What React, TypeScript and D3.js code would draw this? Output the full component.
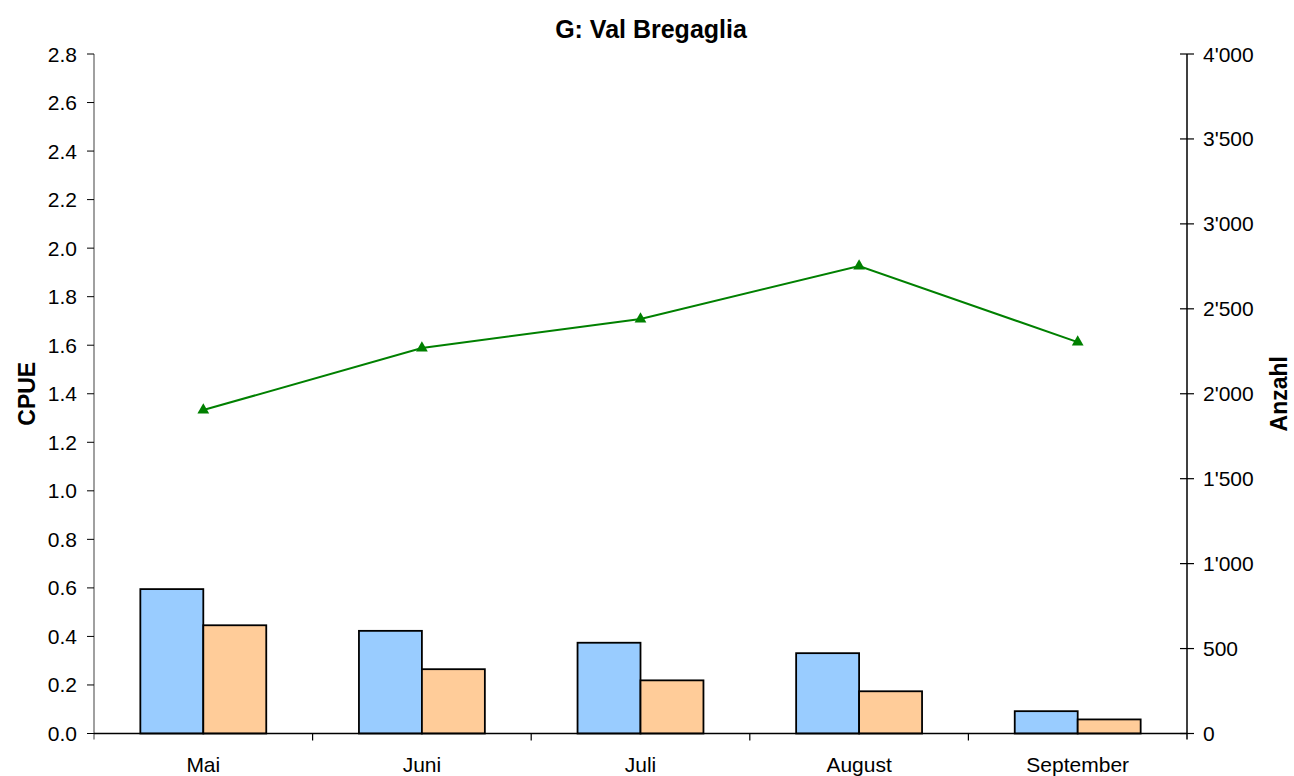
import React from "react";
import * as d3 from "d3";

const months = ["Mai", "Juni", "Juli", "August", "September"];
const cpueBlue = [0.595, 0.423, 0.374, 0.331, 0.092];
const cpueOrange = [0.446, 0.265, 0.219, 0.174, 0.058];
const anzahl = [1904, 2269, 2440, 2752, 2304];
const leftTicks = [0, 0.2, 0.4, 0.6, 0.8, 1.0, 1.2, 1.4, 1.6, 1.8, 2.0, 2.2, 2.4, 2.6, 2.8];
const rightTicks = [0, 500, 1000, 1500, 2000, 2500, 3000, 3500, 4000];

const W = 1294;
const H = 776;
const left = 94;
const right = 1187;
const top = 54;
const bottom = 733.5;
const FONT = "Liberation Sans, Arial, sans-serif";

export default function App() {
  const x = d3.scaleBand<string>().domain(months).range([left, right]).paddingInner(0).paddingOuter(0);
  const yL = d3.scaleLinear().domain([0, 2.8]).range([bottom, top]);
  const yR = d3.scaleLinear().domain([0, 4000]).range([bottom, top]);
  const bw = x.bandwidth();
  const barW = bw * 0.288;
  const fmtR = (v: number) => d3.format(",")(v).replace(/,/g, "'");
  const line = d3
    .line<number>()
    .x((_, i) => (x(months[i]) as number) + bw / 2)
    .y((d) => yR(d));
  const tri = d3.symbol().type(d3.symbolTriangle).size(60)();

  return (
    <svg width={W} height={H} style={{ position: "absolute", left: 0, top: 0, background: "#fff" }} fontFamily={FONT}>
      <text x={651} y={38} textAnchor="middle" fontWeight="bold" fontSize={25}>
        G: Val Bregaglia
      </text>
      {months.map((m, i) => {
        const cx = (x(m) as number) + bw / 2;
        return (
          <g key={m}>
            <rect x={cx - barW} y={yL(cpueBlue[i])} width={barW} height={bottom - yL(cpueBlue[i])} fill="#99ccff" stroke="#000" strokeWidth={1.8} />
            <rect x={cx} y={yL(cpueOrange[i])} width={barW} height={bottom - yL(cpueOrange[i])} fill="#ffcc99" stroke="#000" strokeWidth={1.8} />
          </g>
        );
      })}
      {/* left axis */}
      <line x1={left} x2={left} y1={top} y2={bottom + 6} stroke="#808080" strokeWidth={1.5} />
      {leftTicks.map((t) => (
        <g key={t}>
          <line x1={left - 7} x2={left} y1={yL(t)} y2={yL(t)} stroke="#000" strokeWidth={1} />
          <text x={left - 17} y={yL(t) + 7.5} textAnchor="end" fontSize={21}>
            {t.toFixed(1)}
          </text>
        </g>
      ))}
      {/* right axis */}
      <line x1={right} x2={right} y1={top} y2={bottom + 6} stroke="#000" strokeWidth={1.5} />
      {rightTicks.map((t) => (
        <g key={t}>
          <line x1={right - 7} x2={right + 7} y1={yR(t)} y2={yR(t)} stroke="#000" strokeWidth={1.2} />
          <text x={right + 16} y={yR(t) + 7.5} textAnchor="start" fontSize={21}>
            {fmtR(t)}
          </text>
        </g>
      ))}
      {/* x axis */}
      <line x1={left} x2={right} y1={bottom} y2={bottom} stroke="#000" strokeWidth={1.5} />
      {months.slice(1).map((m) => (
        <line key={m} x1={x(m) as number} x2={x(m) as number} y1={bottom} y2={bottom + 7} stroke="#000" strokeWidth={1.2} />
      ))}
      {months.map((m) => (
        <text key={m} x={(x(m) as number) + bw / 2} y={772} textAnchor="middle" fontSize={21}>
          {m}
        </text>
      ))}
      {/* line */}
      <path d={line(anzahl) || ""} fill="none" stroke="#008000" strokeWidth={2} />
      {anzahl.map((v, i) => (
        <path key={i} d={tri || ""} transform={`translate(${(x(months[i]) as number) + bw / 2},${yR(v)})`} fill="#008000" />
      ))}
      <text transform={`translate(35,${(top + bottom) / 2}) rotate(-90)`} textAnchor="middle" fontWeight="bold" fontSize={23}>
        CPUE
      </text>
      <text transform={`translate(1287,${(top + bottom) / 2}) rotate(-90)`} textAnchor="middle" fontWeight="bold" fontSize={23}>
        Anzahl
      </text>
    </svg>
  );
}
